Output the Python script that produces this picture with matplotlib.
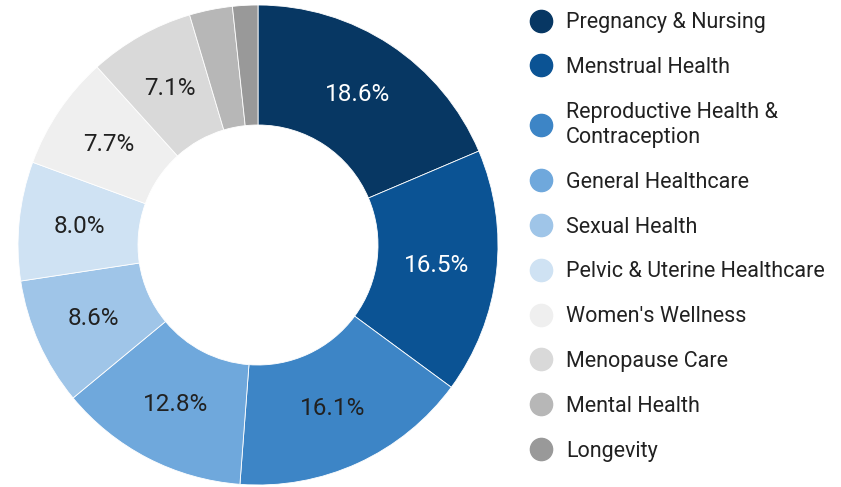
import numpy as np
import matplotlib.pyplot as plt
from matplotlib.lines import Line2D

plt.rcParams['font.family'] = ['Roboto', 'DejaVu Sans']

# Categories and shares (%)
categories = ["Pregnancy & Nursing", "Menstrual Health", "Reproductive Health &\nContraception",
              "General Healthcare", "Sexual Health", "Pelvic & Uterine Healthcare",
              "Women's Wellness", "Menopause Care", "Mental Health", "Longevity"]
shares = [18.6, 16.5, 16.1, 12.8, 8.6, 8.0, 7.7, 7.1, 2.9, 1.7]
colors = ["#073763", "#0b5394", "#3d85c6", "#6fa8dc", "#9fc5e8", "#cfe2f3",
          "#efefef", "#d9d9d9", "#b7b7b7", "#999999"]
label_colors = ["white", "white", "#212121", "#212121", "#212121", "#212121",
                "#212121", "#212121", "#212121", "#212121"]

fig = plt.figure(figsize=(8.41, 4.87), dpi=100)
ax = fig.add_axes([18 / 841, 2 / 487, 480 / 841, 480 / 487])

wedges, _ = ax.pie(shares, colors=colors, startangle=90, counterclock=False,
                   radius=1, wedgeprops=dict(width=0.5, edgecolor="white", linewidth=0.6))

# Percentage labels in the middle of the ring (skip the tiny slices)
for w, val, c in zip(wedges, shares, label_colors):
    if val < 5:
        continue
    ang = np.deg2rad((w.theta1 + w.theta2) / 2)
    ax.text(0.75 * np.cos(ang), 0.75 * np.sin(ang), f"{val:.1f}%",
            ha="center", va="center", fontsize=17.5, color=c)

ax.set_xlim(-1, 1)
ax.set_ylim(-1, 1)
ax.set_aspect("equal")
ax.axis("off")

handles = [Line2D([0], [0], marker="o", linestyle="", markersize=16,
                  markerfacecolor=col, markeredgecolor=col) for col in colors]
leg = fig.legend(handles, categories, loc="upper left", bbox_to_anchor=(521.6 / 841, 1 - 3.5 / 487),
                 frameon=False, fontsize=15.5, labelspacing=1.105, handletextpad=0.665,
                 handlelength=1.0, borderaxespad=0)
for t in leg.get_texts():
    t.set_color("#212121")
    t.set_linespacing(1.27)

fig.savefig("out.png", dpi=100)
